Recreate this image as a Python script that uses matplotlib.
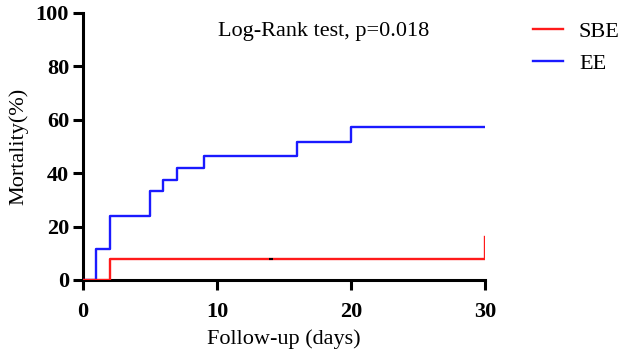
import numpy as np
import matplotlib.pyplot as plt

plt.rcParams['font.family'] = ['Liberation Serif', 'DejaVu Serif']

# Kaplan-Meier style cumulative mortality (%)
sbe_days = [0, 2, 30, 30]
sbe_mort = [0, 7.7, 7.7, 16.1]
sbe_censor_day = [14]
sbe_censor_mort = [7.7]

ee_days = [0, 1, 2, 5, 6, 7, 9, 16, 20, 30]
ee_mort = [0, 11.6, 24.0, 33.3, 37.5, 42.0, 46.4, 51.6, 57.1, 57.1]

xticks = [0, 10, 20, 30]
yticks = [0, 20, 40, 60, 80, 100]

fig = plt.figure(figsize=(6.24, 3.58), dpi=100)
ax = fig.add_axes([0.133, 0.218, 0.644, 0.746])

ax.step(ee_days, ee_mort, where='post', color='#1a1aff', lw=1.7, label='EE', zorder=3)
ax.step(sbe_days, sbe_mort, where='post', color='#ff1a1a', lw=1.7, label='SBE', zorder=4)
ax.plot(sbe_censor_day, sbe_censor_mort, marker='_', ms=3, mew=1.5, color='black',
        ls='none', zorder=5)

ax.set_xlim(0, 30)
ax.set_ylim(0, 100)
ax.set_xticks(xticks)
ax.set_yticks(yticks)
for s in ['top', 'right']:
    ax.spines[s].set_visible(False)
for s in ['left', 'bottom']:
    ax.spines[s].set_linewidth(2.2)
ax.tick_params(width=2.2, length=7, labelsize=16)
ax.tick_params(axis='x', pad=9)
ax.tick_params(axis='y', pad=3)
for lab in ax.get_xticklabels() + ax.get_yticklabels():
    lab.set_fontweight('bold')
ax.set_xlabel('Follow-up (days)', fontsize=16, labelpad=5)
ax.set_ylabel('Mortality(%)', fontsize=16, labelpad=5)

ax.text(0.6, 0.93, 'Log-Rank test, p=0.018', transform=ax.transAxes,
        ha='center', va='center', fontsize=16)

h, l = ax.get_legend_handles_labels()
fig.legend(h[::-1], l[::-1], loc='upper left', bbox_to_anchor=(0.837, 0.971),
           frameon=False, fontsize=16, handlelength=1.35, handletextpad=0.7,
           labelspacing=0.5, borderpad=0)

fig.savefig('out.png', dpi=100)
